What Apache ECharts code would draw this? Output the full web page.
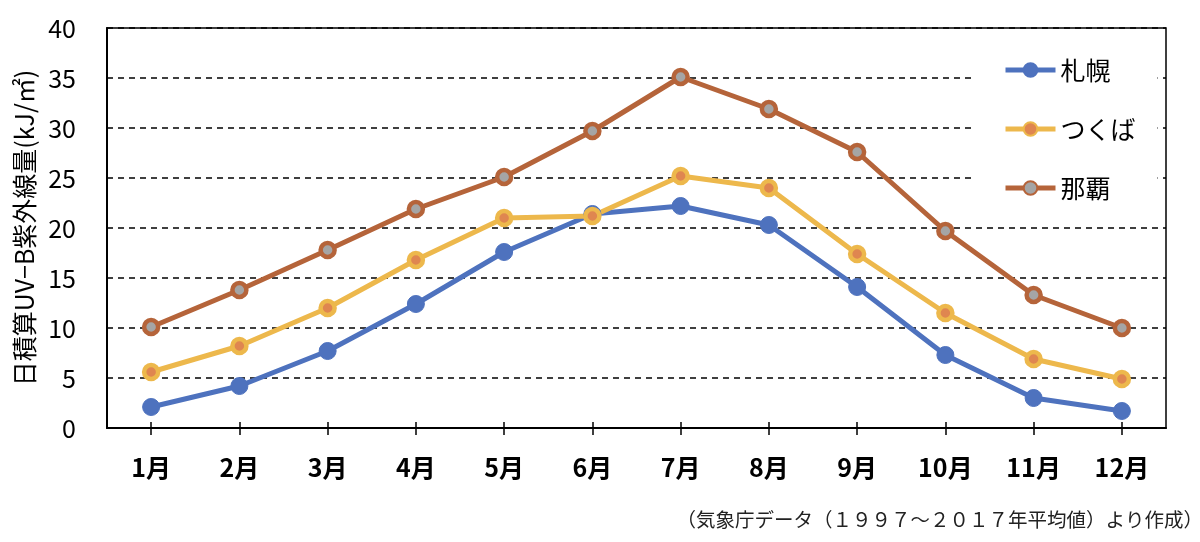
<!DOCTYPE html>
<html>
<head>
<meta charset="utf-8">
<script src="https://cdn.jsdelivr.net/npm/echarts@6/dist/echarts.min.js"></script>
<style>html,body{margin:0;padding:0;background:#fff}#c{width:1200px;height:542px}</style>
</head>
<body>
<div id="c"></div>
<script>
const categories = ['1月','2月','3月','4月','5月','6月','7月','8月','9月','10月','11月','12月'];
const sapporo = [2.1, 4.2, 7.7, 12.4, 17.6, 21.4, 22.2, 20.3, 14.1, 7.3, 3.0, 1.7];
const tsukuba = [5.6, 8.2, 12.0, 16.8, 21.0, 21.2, 25.2, 24.0, 17.4, 11.5, 6.9, 4.9];
const naha = [10.1, 13.8, 17.8, 21.9, 25.1, 29.7, 35.1, 31.9, 27.6, 19.7, 13.3, 10.0];
const seriesNames = ['札幌', 'つくば', '那覇'];
const yAxisName = '日積算UV−B紫外線量(kJ/㎡)';
const footnote = '（気象庁データ（１９９７～２０１７年平均値）より作成）';

const FONT = '"Noto Sans CJK JP", "Noto Sans", sans-serif';
const chart = echarts.init(document.getElementById('c'), null, {renderer: 'canvas'});

function lineSeries(name, data, lineColor, fill, border, size, bw) {
  return {
    name: name, type: 'line', data: data,
    xAxisIndex: 0, yAxisIndex: 0,
    symbol: 'circle', symbolSize: size,
    lineStyle: {color: lineColor, width: 5},
    itemStyle: {color: fill, borderColor: border, borderWidth: bw},
    emphasis: {disabled: true},
    animation: false
  };
}

chart.setOption({
  backgroundColor: '#fff',
  textStyle: {fontFamily: FONT},
  title: {
    text: footnote, right: -8, top: 505,
    textStyle: {fontSize: 19.5, fontWeight: 'normal', color: '#222', fontFamily: FONT}
  },
  grid: {left: 107, right: 34, top: 28, bottom: 114, show: true, borderColor: '#000', borderWidth: 1.5, backgroundColor: 'transparent'},
  legend: {
    orient: 'vertical', left: 975, top: 45,
    padding: [12, 22, 12, 28],
    backgroundColor: '#fff',
    itemWidth: 50, itemHeight: 17, itemGap: 33,
    lineStyle: {width: 5},
    textStyle: {fontSize: 25, color: '#000', lineHeight: 26, fontFamily: FONT},
    data: seriesNames
  },
  xAxis: [{
    type: 'category', data: categories, boundaryGap: true,
    axisLine: {lineStyle: {color: '#000', width: 2}},
    axisTick: {show: true, alignWithLabel: true, length: 7, lineStyle: {color: '#000', width: 1.5}},
    axisLabel: {fontSize: 25, fontWeight: 600, color: '#000', margin: 27, fontFamily: FONT},
    splitLine: {show: false}
  }, {
    type: 'category', data: categories, boundaryGap: true, position: 'bottom',
    axisLine: {show: false},
    axisTick: {show: true, inside: true, alignWithLabel: true, length: 6, lineStyle: {color: '#000', width: 1.5}},
    axisLabel: {show: false},
    splitLine: {show: false}
  }],
  yAxis: {
    type: 'value', min: 0, max: 40, interval: 5,
    name: yAxisName, nameLocation: 'middle', nameGap: 69, nameRotate: 90,
    nameTextStyle: {fontSize: 25, color: '#000', fontFamily: FONT},
    axisLine: {show: true, lineStyle: {color: '#000', width: 2}},
    axisTick: {show: false},
    axisLabel: {fontSize: 25, color: '#000', margin: 31, fontFamily: FONT},
    splitLine: {show: true, lineStyle: {color: '#000', width: 1.5, type: [6, 5]}}
  },
  series: [
    lineSeries(seriesNames[0], sapporo, '#4E72BE', '#4E72BE', '#4E72BE', 17, 1),
    lineSeries(seriesNames[1], tsukuba, '#EDB84C', '#DF8650', '#EDB84C', 14, 4.5),
    lineSeries(seriesNames[2], naha, '#B5643A', '#A5A5A5', '#B5643A', 14, 4.5)
  ]
});
</script>
</body>
</html>
